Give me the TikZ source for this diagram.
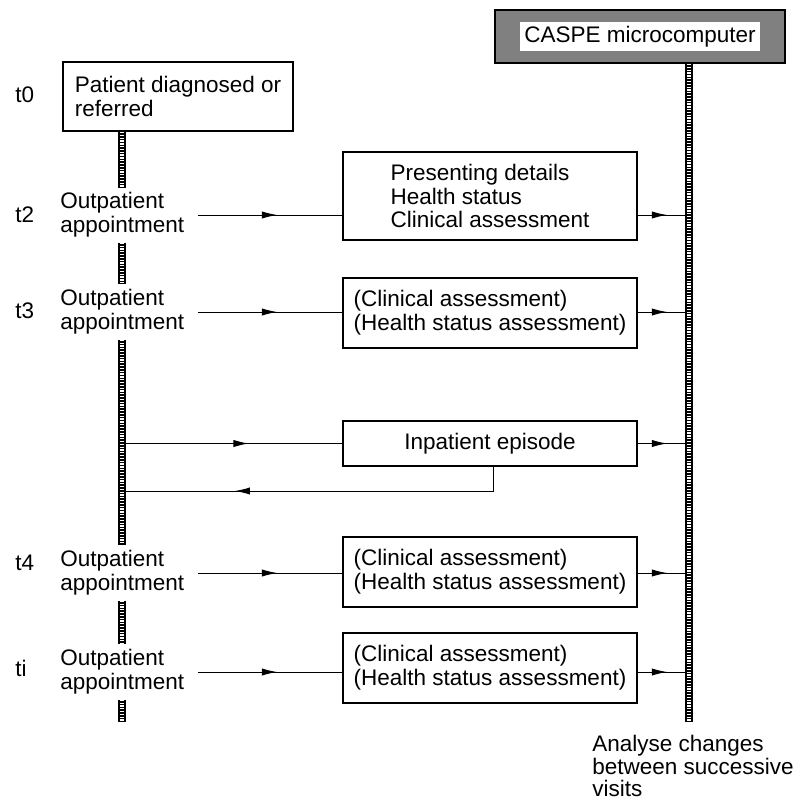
\documentclass[tikz,border=0pt]{standalone}
\usepackage{fontspec}
\setmainfont{Liberation Sans}
\usetikzlibrary{arrows.meta,decorations.markings,calc}

\begin{document}
\begin{tikzpicture}[
    x=0.025cm, y=-0.025cm,
    font=\fontsize{16}{17}\selectfont,
    box/.style={rectangle, draw, line width=1.4pt, align=left, minimum width=7.35cm, minimum height=1.75cm, inner xsep=3pt},
    tlabel/.style={anchor=west, inner sep=0pt},
    visit/.style={anchor=west, inner sep=0pt, align=left},
    lbar/.style={line width=5pt, postaction={draw=white, line width=2.4pt, dash pattern=on 0.9pt off 1.1pt}},
    rbar/.style={line width=5.8pt, postaction={draw=white, line width=3pt, dash pattern=on 0.9pt off 1.1pt}},
    flow/.style={line width=0.7pt, decoration={markings, mark=at position #1 with {\arrow{Latex[length=3.8mm,width=1.8mm]}}}, postaction={decorate}},
    flow/.default=0.55
]
\useasboundingbox (0,0) rectangle (796,800);

% computer and its time axis
\node[draw, line width=1.5pt, fill=black!50, minimum width=7.25cm, minimum height=1.325cm, inner sep=2pt] (caspe) at (640,36.5)
    {\colorbox{white}{CASPE microcomputer}};
\coordinate (rx) at (689,0);
\coordinate (rbot) at (689,722);
\draw[rbar] (caspe.south -| rx) -- (rbot);
\node[visit, anchor=north west, font=\fontsize{16}{16}\selectfont] (analyse) at (592,735) {Analyse changes\\between successive\\visits};

% patient side
\node[box, minimum width=5.75cm, minimum height=1.725cm] (patient) at (178,96.5) {Patient diagnosed or\\referred};
\node[tlabel] (t0) at (15,95) {t0};
\node[tlabel] (t2) at (15,215) {t2};
\node[tlabel] (t3) at (15,311) {t3};
\node[tlabel] (t4) at (15,563) {t4};
\node[tlabel] (ti) at (15,668) {ti};
\node[visit] (op2) at (60,215) {Outpatient\\appointment};
\node[visit] (op3) at (60,312) {Outpatient\\appointment};
\node[visit] (op4) at (60,573) {Outpatient\\appointment};
\node[visit] (opi) at (60,672) {Outpatient\\appointment};

% data recorded
\node[box, minimum height=2.2cm] (b2) at (490,196) {Presenting details\\Health status\\Clinical assessment};
\node[box] (b3) at (490,313) {(Clinical assessment)\\(Health status assessment)};
\node[box, minimum height=1.125cm, align=center] (inp) at (490,443.5) {Inpatient episode};
\node[box] (b4) at (490,572) {(Clinical assessment)\\(Health status assessment)};
\node[box] (bi) at (490,668) {(Clinical assessment)\\(Health status assessment)};

% left time axis
\coordinate (lx) at (122,0);
\draw[lbar] (patient.south -| lx) -- ($(op2.north -| lx)+(0,-4)$);
\foreach \a/\b in {op2/op3, op3/op4, op4/opi}
    \draw[lbar] ($(\a.south -| lx)+(0,5)$) -- ($(\b.north -| lx)+(0,-5)$);
\draw[lbar] ($(opi.south -| lx)+(0,5)$) -- ++(0,22);

% visits to boxes
\foreach \v/\b in {op2/b2, op3/b3, op4/b4, opi/bi} {
    \draw[flow] ($(\v.west)+(138,0)$) -- (\v.west -| \b.west);
    \draw[flow=0.62] (\v.west -| \b.east) -- ($(\v.west -| rx)+(-4,0)$);
}
\draw[flow=0.57] ($(inp.west -| lx)+(3,0)$) -- (inp.west);
\draw[flow=0.72] ([xshift=0.075cm]inp.south) |- ($(inp.south -| lx)+(3,24)$);
\draw[flow=0.62] (inp.east) -- ($(inp.east -| rx)+(-4,0)$);
\end{tikzpicture}
\end{document}
